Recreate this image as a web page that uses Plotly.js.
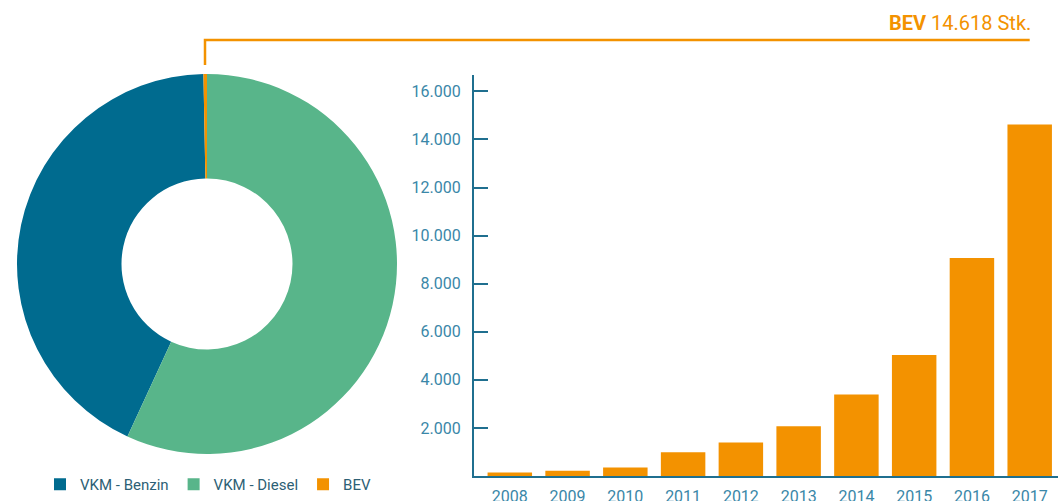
<!DOCTYPE html>
<html>
<head>
<meta charset="utf-8">
<script src="https://cdn.plot.ly/plotly-3.0.1.min.js"></script>
<style>
  html, body { margin: 0; padding: 0; background: #fff; }
  #chart { width: 1058px; height: 501px; }
</style>
</head>
<body>
<div id="chart"></div>
<script>
// Pkw-Bestand nach Antrieb (Donut) und BEV-Bestand je Jahr (Balken)
const driveLabels = ["VKM - Benzin", "VKM - Diesel", "BEV"];
const driveValues = [2087000, 2772000, 14618];

const years = ["2008", "2009", "2010", "2011", "2012", "2013", "2014", "2015", "2016", "2017"];
const bevStock = [146, 223, 353, 989, 1389, 2070, 3386, 5032, 9073, 14618];

const yTicks = [2000, 4000, 6000, 8000, 10000, 12000, 14000, 16000];

const C_BENZIN = "#006b8f";
const C_DIESEL = "#58b58a";
const C_BEV = "#f39200";
const C_AXIS = "#1f6f8f";
const C_TICK = "#3a87a8";

const W = 1058, H = 501;
const px = v => v / W;       // pixel -> paper x
const py = v => 1 - v / H;   // pixel -> paper y

// bar axis geometry
const xDomain = [px(474), 1];
const xRange = [-0.62, 9.49];
const lastIdx = years.length - 1;
const xLast = xDomain[0] + (lastIdx - xRange[0]) / (xRange[1] - xRange[0]) * (xDomain[1] - xDomain[0]);

// counterclockwise: Diesel runs from 12 o'clock on the right, BEV sits just left of 12
const total = driveValues.reduce((a, b) => a + b, 0);
const donutRotation = 360 * driveValues[1] / total;

const donut = {
  type: "pie",
  labels: driveLabels,
  values: driveValues,
  hole: 0.45,
  sort: false,
  direction: "counterclockwise",
  rotation: donutRotation,
  textinfo: "none",
  hoverinfo: "label+value",
  marker: { colors: [C_BENZIN, C_DIESEL, C_BEV], line: { width: 0 } },
  domain: { x: [px(17), px(397)], y: [py(454), py(74)] },
};

const bars = {
  type: "bar",
  x: years,
  y: bevStock,
  marker: { color: C_BEV },
  showlegend: false,
  hoverinfo: "x+y",
};

const layout = {
  width: W, height: H,
  margin: { l: 0, r: 0, t: 0, b: 0, autoexpand: false },
  paper_bgcolor: "white",
  plot_bgcolor: "white",
  font: { family: "Roboto, sans-serif", color: C_TICK },
  separators: ",.",
  bargap: 0.23,
  showlegend: true,
  legend: {
    orientation: "h",
    x: px(40), xanchor: "left",
    y: 0, yanchor: "bottom",
    font: { size: 15, color: "#2d5f75" },
    itemclick: false,
  },
  xaxis: {
    domain: xDomain,
    range: xRange,
    type: "category",
    showline: true, linecolor: C_AXIS, linewidth: 2,
    ticks: "", showgrid: false, zeroline: false,
    tickfont: { size: 16, color: C_TICK },
    ticklabelstandoff: 5,
  },
  yaxis: {
    domain: [py(476), py(75)],
    range: [0, 16680],
    showline: true, linecolor: C_AXIS, linewidth: 2,
    ticks: "inside", ticklen: 14, tickcolor: C_AXIS, tickwidth: 2,
    tickvals: yTicks, tickformat: ",d",
    showgrid: false, zeroline: false,
    tickfont: { size: 16, color: C_TICK },
    ticklabelstandoff: 8,
  },
  shapes: [{
    type: "path", xref: "paper", yref: "paper",
    path: `M ${px(205)} ${py(65)} V ${py(40)} H ${xLast}`,
    line: { color: C_BEV, width: 2.5 },
  }],
  annotations: [{
    xref: "x", yref: "y",
    x: years[lastIdx], y: bevStock[lastIdx],
    ax: 0, ay: -84,
    showarrow: true, arrowhead: 2, arrowsize: 1.3, arrowwidth: 2.5,
    arrowcolor: C_BEV, standoff: 11, text: "",
  }, {
    xref: "paper", yref: "paper",
    x: px(1033), y: py(23), xanchor: "right", yanchor: "middle",
    showarrow: false,
    text: "<b>BEV</b> 14.618 Stk.",
    font: { size: 20, color: C_BEV },
  }],
};

Plotly.newPlot("chart", [donut, bars], layout, { displayModeBar: false, staticPlot: true });
</script>
</body>
</html>
